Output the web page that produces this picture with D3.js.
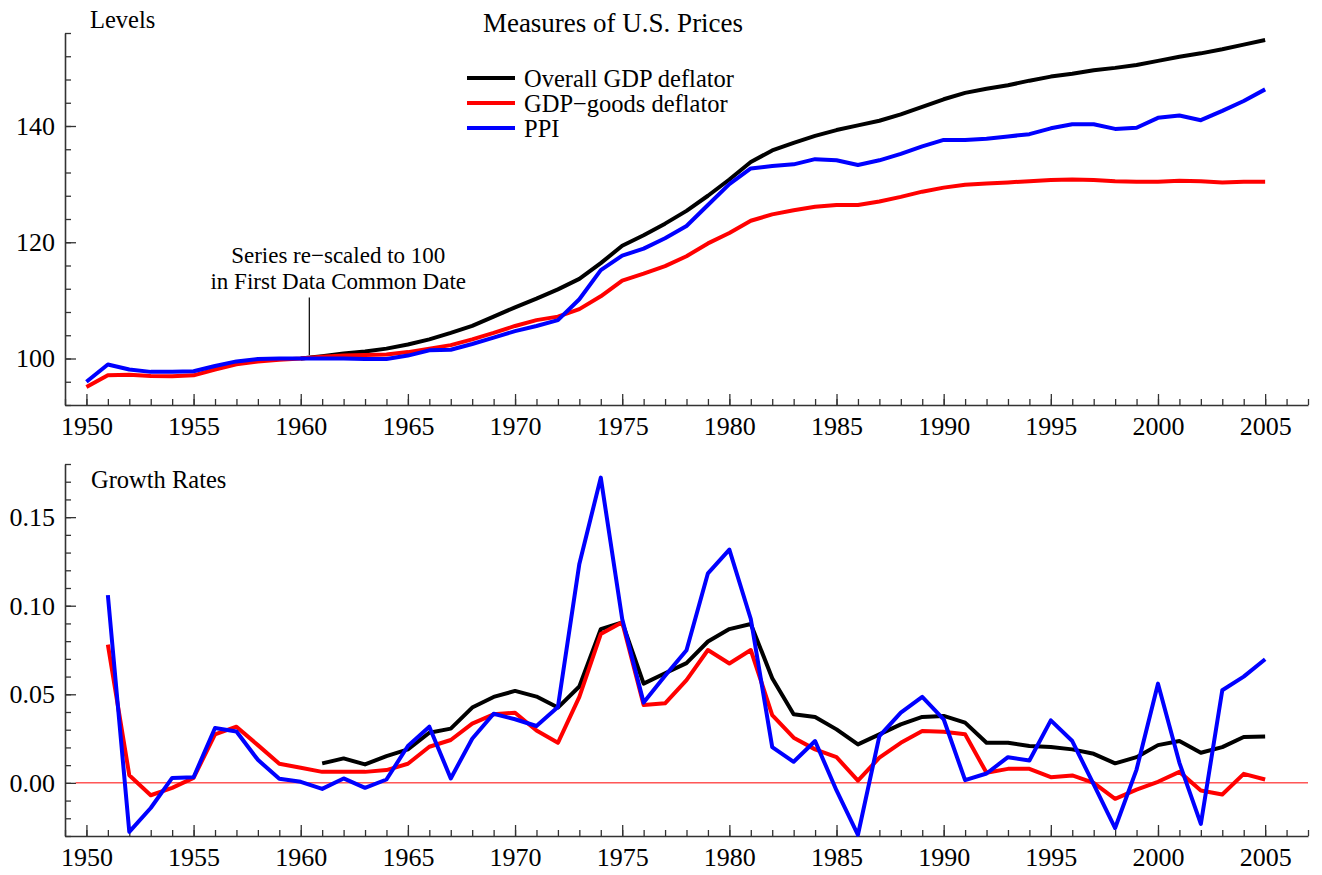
<!DOCTYPE html>
<html>
<head>
<meta charset="utf-8">
<script src="https://cdn.jsdelivr.net/npm/d3@7"></script>
<style>
  html, body { margin: 0; padding: 0; background: #fff; }
  svg text { font-family: "Liberation Serif", "Times New Roman", serif; fill: #000; }
</style>
</head>
<body>
<svg id="chart" width="1322" height="875"></svg>
<script>
// ---------- DATA ----------
const years = [1950,1951,1952,1953,1954,1955,1956,1957,1958,1959,
  1960,1961,1962,1963,1964,1965,1966,1967,1968,1969,
  1970,1971,1972,1973,1974,1975,1976,1977,1978,1979,
  1980,1981,1982,1983,1984,1985,1986,1987,1988,1989,
  1990,1991,1992,1993,1994,1995,1996,1997,1998,1999,
  2000,2001,2002,2003,2004,2005];

// Levels (black series starts 1960)
const gdpLevel = [null,null,null,null,null,null,null,null,null,null,
  100.0,100.4,100.85,101.2,101.7,102.4,103.3,104.4,105.6,107.2,
  108.8,110.3,111.9,113.7,116.4,119.4,121.2,123.2,125.4,128.0,
  130.8,133.8,135.8,137.1,138.3,139.3,140.1,140.9,142.0,143.3,
  144.6,145.7,146.4,147.0,147.8,148.5,149.0,149.6,150.0,150.5,
  151.2,151.9,152.5,153.2,154.0,154.8];
const goodsLevel = [95.1,97.1,97.2,97.0,96.95,97.1,98.1,99.0,99.5,99.8,
  100.0,100.3,100.5,100.6,100.7,101.1,101.7,102.3,103.3,104.4,
  105.6,106.6,107.2,108.5,110.7,113.4,114.6,115.9,117.6,119.8,
  121.6,123.7,124.8,125.5,126.1,126.4,126.4,127.0,127.8,128.7,
  129.4,129.9,130.1,130.3,130.5,130.7,130.8,130.7,130.5,130.4,
  130.4,130.6,130.5,130.3,130.4,130.4];
const ppiLevel = [96.0,98.97,98.1,97.7,97.7,97.8,98.7,99.5,99.9,100.0,
  100.0,100.0,100.0,99.9,99.9,100.5,101.4,101.5,102.5,103.6,
  104.7,105.6,106.6,110.2,115.2,117.7,118.9,120.7,122.8,126.4,
  130.0,132.7,133.1,133.4,134.3,134.1,133.3,134.1,135.2,136.5,
  137.6,137.6,137.8,138.2,138.6,139.6,140.3,140.3,139.5,139.7,
  141.4,141.8,141.0,142.6,144.3,146.3];

// Growth rates
const gdpGrowth = [null,null,null,null,null,null,null,null,null,null,
  null,0.0110,0.0138,0.0104,0.0151,0.0189,0.0283,0.0306,0.0425,0.0485,
  0.0519,0.0487,0.0425,0.0544,0.0868,0.0906,0.0560,0.0619,0.0676,0.0798,
  0.0868,0.0897,0.0591,0.0387,0.0372,0.0302,0.0217,0.0274,0.0330,0.0372,
  0.0378,0.0340,0.0226,0.0226,0.0208,0.0202,0.0189,0.0164,0.0110,0.0145,
  0.0213,0.0236,0.0170,0.0202,0.0259,0.0262];
const goodsGrowth = [null,0.0780,0.0043,-0.0070,-0.0028,0.0028,0.0274,0.0317,0.0213,0.0108,
  0.0085,0.0062,0.0062,0.0062,0.0072,0.0108,0.0204,0.0242,0.0334,0.0387,
  0.0396,0.0296,0.0226,0.0485,0.0840,0.0906,0.0440,0.0449,0.0580,0.0750,
  0.0674,0.0750,0.0383,0.0255,0.0189,0.0145,0.0013,0.0142,0.0226,0.0293,
  0.0289,0.0274,0.0057,0.0079,0.0079,0.0032,0.0042,0.0000,-0.0090,-0.0038,
  0.0006,0.0062,-0.0043,-0.0066,0.0051,0.0019];
const ppiGrowth = [null,0.1060,-0.0277,-0.0142,0.0028,0.0032,0.0310,0.0290,0.0130,0.0023,
  0.0006,-0.0034,0.0025,-0.0028,0.0019,0.0208,0.0317,0.0025,0.0249,0.0390,
  0.0359,0.0321,0.0428,0.1236,0.1723,0.0925,0.0453,0.0604,0.0749,0.1183,
  0.1317,0.0925,0.0202,0.0119,0.0236,-0.0043,-0.0293,0.0264,0.0396,0.0485,
  0.0359,0.0015,0.0053,0.0145,0.0126,0.0353,0.0236,-0.0009,-0.0255,0.0075,
  0.0560,0.0113,-0.0232,0.0523,0.0600,0.0698];

const seriesNames = ["Overall GDP deflator", "GDP\u2212goods deflator", "PPI"];
const seriesColors = ["#000000", "#ff0000", "#0000ff"];

const xTickLabels = [1950,1955,1960,1965,1970,1975,1980,1985,1990,1995,2000,2005];
const levelTicks = [100,120,140];
const growthTicks = [0.00,0.05,0.10,0.15];
const annotationLines = ["Series re\u2212scaled to 100", "in First Data Common Date"];

// ---------- LAYOUT ----------
const svg = d3.select("#chart");
const X0 = 65, X1 = 1308;
const topPanel = { y0: 33, y1: 405 };
const botPanel = { y0: 464, y1: 836 };
const axisColor = "#333";

const x = d3.scaleLinear().domain([1949, 2007]).range([X0, X1]);
const yL = d3.scaleLinear().domain([92, 156]).range([topPanel.y1, topPanel.y0]);
const yG = d3.scaleLinear().domain([-0.03, 0.18]).range([botPanel.y1, botPanel.y0]);

const minorYears = d3.range(1949, 2008);

function drawXAxis(yPix) {
  const gMin = svg.append("g").attr("transform", `translate(0,${yPix})`)
    .call(d3.axisBottom(x).tickValues(minorYears).tickSizeInner(-6).tickSizeOuter(0).tickFormat(""));
  gMin.select(".domain").remove();
  const g = svg.append("g").attr("transform", `translate(0,${yPix})`)
    .call(d3.axisBottom(x).tickValues(xTickLabels).tickSizeInner(-11).tickSizeOuter(0)
      .tickPadding(12).tickFormat(d3.format("d")));
  g.selectAll("text").attr("font-size", 26).attr("dy", "0.71em")
    .style("font-family", '"Liberation Serif", serif').attr("fill", "#000");
  [gMin, g].forEach(gg => { gg.selectAll("line").attr("stroke", axisColor).attr("stroke-width", 1.3); });
  g.select(".domain").attr("stroke", axisColor).attr("stroke-width", 1.6);
}

function drawYAxis(scale, majors, minors, fmt) {
  const gMin = svg.append("g").attr("transform", `translate(${X0},0)`)
    .call(d3.axisLeft(scale).tickValues(minors).tickSizeInner(-6).tickSizeOuter(0).tickFormat(""));
  gMin.select(".domain").remove();
  const g = svg.append("g").attr("transform", `translate(${X0},0)`)
    .call(d3.axisLeft(scale).tickValues(majors).tickSizeInner(-11).tickSizeOuter(0)
      .tickPadding(10).tickFormat(fmt));
  g.selectAll("text").attr("font-size", 26)
    .style("font-family", '"Liberation Serif", serif').attr("fill", "#000");
  [gMin, g].forEach(gg => { gg.selectAll("line").attr("stroke", axisColor).attr("stroke-width", 1.3); });
  g.select(".domain").attr("stroke", axisColor).attr("stroke-width", 1.6);
}

// ---------- TOP PANEL: LEVELS ----------
drawYAxis(yL, levelTicks, d3.range(92, 157, 4), d3.format("d"));
drawXAxis(topPanel.y1);

const lineL = d3.line().defined(d => d[1] != null).x(d => x(d[0])).y(d => yL(d[1]));
[gdpLevel, goodsLevel, ppiLevel].forEach((vals, i) => {
  svg.append("path")
    .datum(years.map((yr, j) => [yr, vals[j]]))
    .attr("d", lineL)
    .attr("fill", "none")
    .attr("stroke", seriesColors[i])
    .attr("stroke-width", 4)
    .attr("stroke-linejoin", "round");
});

// annotation
svg.append("line")
  .attr("x1", x(1960.4)).attr("x2", x(1960.4))
  .attr("y1", yL(100.6)).attr("y2", yL(110.5))
  .attr("stroke", "#000").attr("stroke-width", 1.2);
svg.append("text").attr("x", x(1961.75)).attr("y", yL(116.4)).attr("text-anchor", "middle")
  .attr("font-size", 23).text(annotationLines[0]);
svg.append("text").attr("x", x(1961.75)).attr("y", yL(111.9)).attr("text-anchor", "middle")
  .attr("font-size", 23).text(annotationLines[1]);

// title & panel label
svg.append("text").attr("x", 613).attr("y", 32).attr("text-anchor", "middle")
  .attr("font-size", 27).text("Measures of U.S. Prices");
svg.append("text").attr("x", 90).attr("y", 28).attr("font-size", 24.5).text("Levels");

// legend
const legend = svg.append("g");
seriesNames.forEach((name, i) => {
  const yy = 78 + i * 25;
  legend.append("line").attr("x1", 467).attr("x2", 515).attr("y1", yy).attr("y2", yy)
    .attr("stroke", seriesColors[i]).attr("stroke-width", 4);
  legend.append("text").attr("x", 524).attr("y", yy + 9).attr("font-size", 24.5).text(name);
});

// ---------- BOTTOM PANEL: GROWTH RATES ----------
drawYAxis(yG, growthTicks, d3.range(-3, 19).map(v => v / 100), d3.format(".2f"));
drawXAxis(botPanel.y1);

svg.append("line")
  .attr("x1", x(1949.5)).attr("x2", x(2007))
  .attr("y1", yG(0)).attr("y2", yG(0))
  .attr("stroke", "#ff0000").attr("stroke-width", 1);

const lineG = d3.line().defined(d => d[1] != null).x(d => x(d[0])).y(d => yG(d[1]));
[gdpGrowth, goodsGrowth, ppiGrowth].forEach((vals, i) => {
  svg.append("path")
    .datum(years.map((yr, j) => [yr, vals[j]]))
    .attr("d", lineG)
    .attr("fill", "none")
    .attr("stroke", seriesColors[i])
    .attr("stroke-width", 4)
    .attr("stroke-linejoin", "round");
});

svg.append("text").attr("x", 91).attr("y", 488).attr("font-size", 24.5).text("Growth Rates");
</script>
</body>
</html>
